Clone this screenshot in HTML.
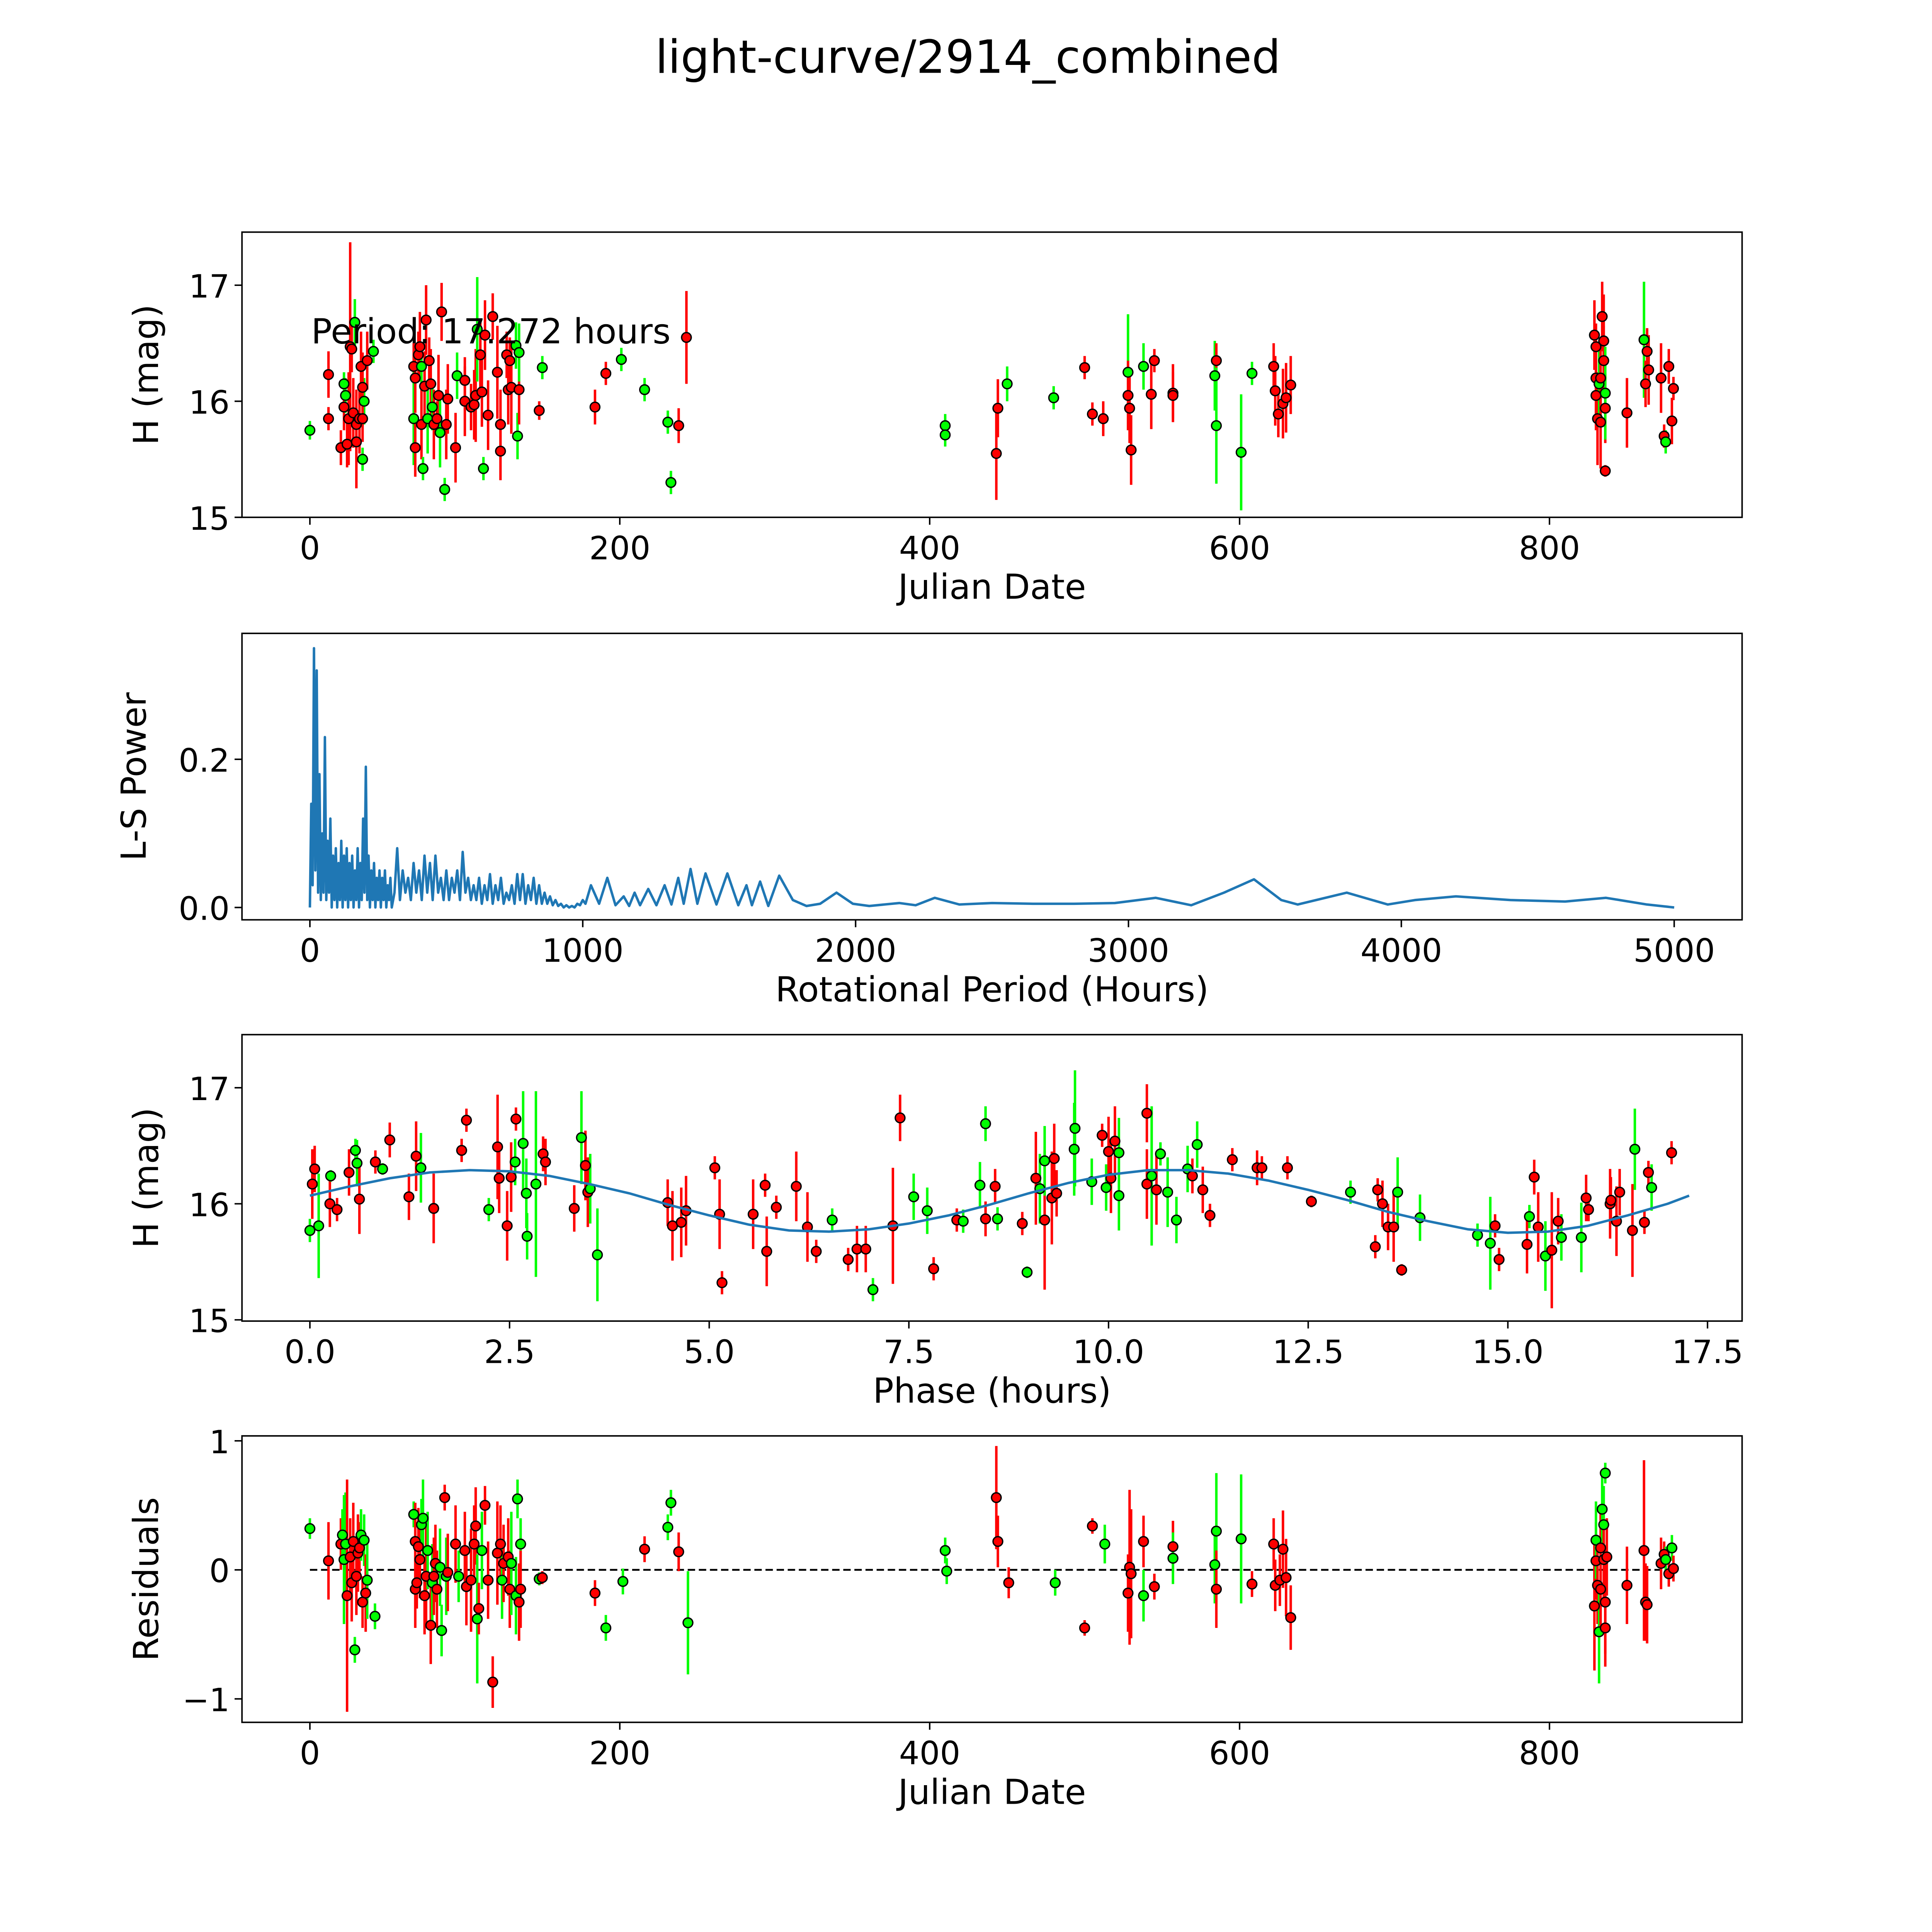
<!DOCTYPE html>
<html><head><meta charset="utf-8"><style>
html,body{margin:0;padding:0;background:#fff;overflow:hidden;width:5400px;height:5400px;}
svg{display:block;font-family:"DejaVu Sans","Liberation Sans",sans-serif;}
</style></head><body>
<svg id="fig" xmlns="http://www.w3.org/2000/svg" width="5400" height="5400" viewBox="0 0 1690 1690">
<rect width="1690" height="1690" fill="#fff"/>
<text x="784" y="59" font-size="37" text-anchor="middle">light-curve/2914_combined</text>
</svg>
<script>
// ---- data ----
const dates1 = [0,12,12,20,22,22,23,24,25,26,27,28,29,30,30,32,33,34,35,34,37,34,41,67,67,68,68,70,71,72,72,73,74,75,76,77,78,79,80,82,83,84,85,87,88,89,94,95,100,100,104,106,107,108,110,111,112,113,115,118,121,123,123,127,128,129,130,133,134,135,135,148,150,184,191,201,216,231,233,238,243,410,410,443,444,450,480,500,505,512,528,529,530,528,538,543,545,557,557,584,585,585,601,608,622,623,625,628,630,633,829,830,830,830,831,832,833,833,834,835,835,836,836,836,861,862,863,864,850,872,874,875,877,879,880];
const mags1 = [15.75,15.85,16.23,15.6,15.95,16.15,16.05,15.63,15.85,16.47,16.45,15.9,16.68,15.8,15.65,15.85,16.3,15.5,16.0,16.12,16.35,15.85,16.43,16.3,15.85,15.6,16.2,16.4,16.47,15.8,16.3,15.42,16.13,16.7,15.85,16.35,16.15,15.95,15.8,15.85,16.05,15.73,16.77,15.24,15.8,16.02,15.6,16.22,16.18,16.0,15.95,15.97,16.05,16.62,16.4,16.08,15.42,16.57,15.88,16.73,16.25,15.8,15.57,16.4,16.1,16.35,16.12,16.48,15.7,16.1,16.42,15.92,16.29,15.95,16.24,16.36,16.1,15.82,15.3,15.79,16.55,15.79,15.71,15.55,15.94,16.15,16.03,16.29,15.89,15.85,16.25,15.94,15.58,16.05,16.3,16.06,16.35,16.07,16.05,16.22,16.35,15.79,15.56,16.24,16.3,16.09,15.89,15.98,16.03,16.14,16.57,16.47,16.2,16.05,15.85,16.15,15.82,16.2,16.73,16.52,16.35,15.94,16.07,15.4,16.53,16.15,16.43,16.27,15.9,16.2,15.7,15.65,16.3,15.83,16.11];
const errs1 = [0.08,0.1,0.2,0.15,0.2,0.1,0.15,0.2,0.4,0.9,0.2,0.3,0.2,0.3,0.4,0.3,0.3,0.1,0.2,0.3,0.25,0.2,0.1,0.2,0.4,0.25,0.3,0.2,0.3,0.3,0.2,0.1,0.3,0.3,0.3,0.2,0.3,0.2,0.3,0.15,0.35,0.3,0.25,0.1,0.3,0.3,0.3,0.2,0.2,0.3,0.2,0.3,0.4,0.45,0.3,0.3,0.1,0.3,0.3,0.2,0.4,0.3,0.25,0.2,0.3,0.2,0.4,0.2,0.2,0.3,0.25,0.08,0.1,0.15,0.1,0.1,0.1,0.1,0.1,0.15,0.4,0.1,0.1,0.4,0.25,0.15,0.1,0.1,0.1,0.15,0.5,0.3,0.3,0.3,0.2,0.3,0.1,0.25,0.2,0.3,0.15,0.5,0.5,0.1,0.2,0.3,0.2,0.3,0.3,0.25,0.3,0.2,0.3,0.3,0.4,0.3,0.4,0.25,0.3,0.4,0.3,0.3,0.4,0.05,0.5,0.2,0.2,0.3,0.3,0.3,0.1,0.1,0.15,0.2,0.1];
const cols1 = "grrrrggrrrrrgrrrrggrrrgrgrrrrrggrrgrrgrrrgrgrrrgrrrrrgrrgrrrrrrrrrrggrgrgrrggggrrggrrggrrrgrrrgrrrrgrgggrrrrrrrrrrrgrrrrrrgrgrrrrrrgrrrgrg";

const periods = [0,5,10,15,20,25,30,35,40,45,50,55,60,65,70,75,80,85,90,95,100,105,110,115,120,125,130,135,140,145,150,155,160,165,170,175,180,185,190,195,200,205,210,215,220,225,230,235,240,245,250,255,260,265,270,275,280,285,290,295,300,310,320,330,340,350,360,370,380,390,400,410,420,430,440,450,460,470,480,490,500,510,520,530,540,550,560,570,580,590,600,610,620,630,640,650,660,670,680,690,700,710,720,730,740,750,760,770,780,790,800,810,820,830,840,850,860,870,880,890,900,910,920,930,940,950,960,970,980,990,1000,1010,1030,1060,1090,1120,1150,1170,1190,1210,1240,1270,1300,1325,1350,1370,1395,1420,1450,1490,1530,1570,1600,1620,1650,1680,1720,1770,1820,1870,1930,1990,2050,2160,2220,2290,2380,2500,2650,2800,2950,3100,3230,3350,3460,3560,3620,3800,3950,4050,4200,4400,4600,4750,4900,5000];
const power = [0,0.14,0.03,0.35,0.05,0.32,0.02,0.18,0.01,0.10,0.02,0.23,0.01,0.09,0.02,0.12,0,0.07,0.01,0.08,0,0.06,0.01,0.09,0,0.07,0.01,0.08,0,0.06,0.01,0.07,0,0.05,0.01,0.08,0,0.06,0.01,0.12,0.02,0.19,0.01,0.07,0,0.05,0.01,0.06,0,0.04,0.01,0.05,0,0.04,0.01,0.05,0,0.03,0.01,0.04,0,0.02,0.08,0.01,0.05,0.02,0.04,0.01,0.06,0.02,0.05,0.01,0.07,0.02,0.06,0.01,0.07,0.02,0.04,0.01,0.05,0.01,0.04,0.02,0.05,0.01,0.075,0.02,0.04,0.01,0.03,0.01,0.04,0.005,0.03,0.01,0.045,0.005,0.03,0.01,0.04,0.005,0.02,0.01,0.03,0.005,0.045,0.01,0.045,0.005,0.03,0.01,0.04,0.005,0.03,0.005,0.02,0.005,0.015,0.003,0.01,0.002,0.005,0,0.003,0,0.002,0,0.005,0.003,0.01,0.005,0.03,0.005,0.04,0.003,0.015,0.002,0.02,0.003,0.025,0.003,0.03,0.004,0.04,0.005,0.052,0.005,0.046,0.004,0.046,0.003,0.03,0.003,0.035,0.002,0.043,0.01,0.002,0.005,0.02,0.005,0.002,0.006,0.003,0.013,0.004,0.006,0.005,0.005,0.006,0.013,0.003,0.02,0.038,0.01,0.004,0.02,0.004,0.01,0.015,0.01,0.008,0.013,0.004,0];

const phases = [0,0.03,0.06,0.11,0.25,0.26,0.34,0.49,0.57,0.59,0.62,0.82,0.91,1.00,1.24,1.33,1.39,1.55,1.90,1.96,2.24,2.35,2.37,2.47,2.52,2.57,2.58,2.67,2.71,2.72,2.83,2.92,2.95,3.31,3.40,3.45,3.48,3.51,3.60,4.48,4.54,4.65,4.71,5.07,5.13,5.16,5.55,5.70,5.72,5.84,6.09,6.23,6.34,6.54,6.74,6.85,6.96,7.05,7.30,7.39,7.56,7.73,7.81,8.10,8.18,8.39,8.46,8.46,8.58,8.61,8.92,8.98,9.09,9.14,9.20,9.20,9.29,9.32,9.35,9.57,9.58,9.79,9.92,9.97,10.00,10.03,10.08,10.13,10.13,10.48,10.48,10.54,10.60,10.65,10.74,10.85,10.99,11.05,11.11,11.18,11.27,11.55,11.86,11.92,12.24,12.54,13.03,13.34,13.37,13.43,13.50,13.57,13.62,13.67,13.90,14.62,14.78,14.84,14.89,15.24,15.27,15.33,15.38,15.47,15.55,15.63,15.67,15.92,15.98,16.01,16.28,16.29,16.36,16.40,16.56,16.59,16.71,16.76,16.80,17.05];
const mags3 = [15.77,16.17,16.30,15.81,16.00,16.24,15.95,16.27,16.46,16.35,16.04,16.36,16.30,16.55,16.06,16.41,16.31,15.96,16.46,16.72,15.95,16.49,16.22,15.81,16.23,16.36,16.73,16.52,16.09,15.72,16.17,16.43,16.36,15.96,16.57,16.33,16.10,16.13,15.56,16.01,15.81,15.84,15.94,16.31,15.91,15.32,15.91,16.16,15.59,15.97,16.15,15.80,15.59,15.86,15.52,15.61,15.61,15.26,15.81,16.74,16.06,15.94,15.44,15.86,15.85,16.16,16.69,15.87,16.15,15.87,15.83,15.41,16.22,16.13,15.86,16.37,16.05,16.39,16.09,16.47,16.65,16.19,16.59,16.14,16.45,16.22,16.54,16.44,16.07,16.78,16.17,16.24,16.12,16.43,16.10,15.86,16.30,16.24,16.51,16.12,15.90,16.38,16.31,16.31,16.31,16.02,16.10,15.63,16.12,16.00,15.80,15.80,16.10,15.43,15.88,15.73,15.66,15.81,15.52,15.65,15.89,16.23,15.80,15.55,15.60,15.85,15.71,15.71,16.05,15.95,16.00,16.03,15.85,16.10,15.77,16.47,15.84,16.27,16.14,16.44];
const errs3 = [0.1,0.3,0.2,0.45,0.2,0.05,0.1,0.2,0.1,0.2,0.3,0.1,0.05,0.15,0.2,0.3,0.3,0.3,0.1,0.1,0.1,0.45,0.3,0.3,0.3,0.2,0.1,0.45,0.3,0.2,0.8,0.15,0.2,0.2,0.4,0.3,0.3,0.3,0.4,0.2,0.3,0.3,0.3,0.1,0.3,0.1,0.3,0.1,0.3,0.1,0.3,0.3,0.1,0.1,0.1,0.2,0.2,0.1,0.5,0.2,0.2,0.2,0.1,0.1,0.1,0.2,0.15,0.15,0.15,0.1,0.1,0.05,0.4,0.3,0.6,0.3,0.4,0.3,0.2,0.4,0.5,0.2,0.1,0.2,0.3,0.3,0.3,0.3,0.3,0.25,0.3,0.6,0.3,0.1,0.3,0.2,0.2,0.15,0.2,0.2,0.1,0.1,0.15,0.1,0.1,0.05,0.1,0.1,0.1,0.2,0.2,0.3,0.3,0.05,0.2,0.1,0.4,0.1,0.1,0.25,0.1,0.15,0.3,0.3,0.5,0.2,0.2,0.3,0.2,0.1,0.3,0.2,0.3,0.2,0.4,0.35,0.1,0.1,0.2,0.1];
const cols3 = "grrgrgrrggrrgrrrgrrrgrrrrgrggggrrrgrrggrrrrrrrrrrrrrrgrrrgrrggrrgggrrgrgrgrgrrrgggrgrrrggrrgrggggrgrrrrrrrgrrrrrgrgggrrrgrrgrrggrrrrrrrgrrg";
const modelPhase = [0,0.5,1,1.5,2,2.5,3,3.5,4,4.5,5,5.5,6,6.5,7,7.5,8,8.5,9,9.5,10,10.5,11,11.5,12,12.5,13,13.5,14,14.5,15,15.5,16,16.5,17,17.27];
const modelMag = [16.07,16.15,16.22,16.27,16.29,16.28,16.24,16.17,16.09,15.99,15.9,15.82,15.77,15.76,15.78,15.83,15.9,15.99,16.09,16.18,16.25,16.29,16.29,16.26,16.2,16.12,16.03,15.93,15.85,15.78,15.75,15.76,15.81,15.9,16.0,16.07];

const dates4 = [0,12,20,21,22,23,24,26,27,28,29,30,31,32,33,34,35,36,37,42,67,68,68,69,70,71,72,73,74,75,76,78,79,80,81,82,84,85,87,88,89,94,96,100,101,104,106,107,108,109,111,113,115,118,121,123,124,125,128,129,130,133,134,135,136,136,148,150,184,191,202,216,231,233,238,244,410,411,443,444,451,481,500,505,513,528,529,530,538,538,545,557,557,584,585,585,601,608,622,623,626,628,630,633,829,830,830,831,832,833,833,834,835,835,836,836,836,837,850,861,862,863,872,874,875,877,879,880];
const resid4 = [0.32,0.07,0.2,0.27,0.08,0.2,-0.2,0.1,-0.1,0.22,-0.62,-0.05,0.13,0.17,0.27,-0.25,0.23,-0.18,-0.08,-0.36,0.43,-0.15,0.22,-0.1,0.18,0.08,0.35,0.4,-0.2,-0.05,0.15,-0.43,-0.1,-0.05,0.05,-0.15,0.02,-0.47,0.56,-0.05,-0.02,0.2,-0.05,0.15,-0.13,-0.08,0.2,0.34,-0.38,-0.3,0.15,0.5,-0.08,-0.87,0.13,0.2,-0.08,0.05,0.1,-0.15,0.05,-0.2,0.55,-0.25,0.2,-0.15,-0.07,-0.06,-0.18,-0.45,-0.09,0.16,0.33,0.52,0.14,-0.41,0.15,-0.01,0.56,0.22,-0.1,-0.1,-0.45,0.34,0.2,-0.18,0.02,-0.03,0.22,-0.2,-0.13,0.18,0.09,0.04,0.3,-0.15,0.24,-0.11,0.2,-0.12,-0.08,0.16,-0.06,-0.37,-0.28,0.07,0.23,-0.12,-0.48,0.17,-0.15,0.47,0.35,0.08,-0.45,0.75,-0.25,0.1,-0.12,0.15,-0.25,-0.27,0.05,0.12,0.08,-0.03,0.17,0.01];
const errs4 = [0.08,0.3,0.2,0.2,0.5,0.4,0.9,0.3,0.3,0.3,0.1,0.3,0.3,0.2,0.2,0.2,0.2,0.3,0.3,0.1,0.1,0.3,0.3,0.2,0.3,0.3,0.2,0.3,0.3,0.4,0.3,0.3,0.3,0.3,0.3,0.3,0.3,0.2,0.1,0.3,0.3,0.3,0.2,0.3,0.3,0.4,0.3,0.3,0.5,0.2,0.3,0.15,0.3,0.2,0.4,0.3,0.3,0.3,0.3,0.3,0.4,0.3,0.15,0.3,0.2,0.3,0.05,0.05,0.1,0.1,0.1,0.1,0.1,0.1,0.15,0.4,0.1,0.1,0.4,0.2,0.12,0.1,0.06,0.06,0.15,0.3,0.6,0.5,0.2,0.2,0.1,0.2,0.2,0.3,0.45,0.3,0.5,0.1,0.2,0.2,0.2,0.3,0.3,0.25,0.5,0.3,0.3,0.3,0.4,0.3,0.3,0.3,0.3,0.3,0.3,0.08,0.4,0.3,0.3,0.7,0.3,0.3,0.2,0.1,0.1,0.1,0.1,0.1];
const cols4 = "grrgggrrrrgrrrgrgrgggrrrrrggrrgrgrrrggrgrrgrrrrrgrgrrrrrgrrrgggrgrgrrggrggrgggrrrgrrgrrrrgrrgggrgrrrrrrrrrgrgrrggrrgrrrrrrrrgrg";

// ---- helpers ----
const NS = "http://www.w3.org/2000/svg";
const fig = document.getElementById('fig');
function mk(tag, attrs, parent){const e=document.createElementNS(NS,tag);for(const k in attrs)e.setAttribute(k,attrs[k]);(parent||fig).appendChild(e);return e;}
function scale(d0,d1,p0,p1){return v=>p0+(v-d0)*(p1-p0)/(d1-d0);}

function axes(name, L,T,R,B, xs, ys, xticks, xlabels, yticks, ylabels, xtitle, ytitle, ytx){
  const g=mk('g',{});
  
  
  xticks.forEach((t,i)=>{const x=xs(t);
    mk('line',{x1:x,x2:x,y1:B,y2:B+6,stroke:'#000','stroke-width':1.2},g);
    const tx=mk('text',{x:x,y:B+34,'font-size':26,'text-anchor':'middle'},g);tx.textContent=xlabels[i];
    
    });
  yticks.forEach((t,i)=>{const y=ys(t);
    mk('line',{x1:L-6,x2:L,y1:y,y2:y,stroke:'#000','stroke-width':1.2},g);
    const tx=mk('text',{x:L-10,y:y+10,'font-size':26,'text-anchor':'end'},g);tx.textContent=ylabels[i];
    
    });
  const xt=mk('text',{x:(L+R)/2,y:B+66,'font-size':28,'text-anchor':'middle'},g);xt.textContent=xtitle;
  
  
  const yc=(T+B)/2;
  const yt=mk('text',{x:ytx,y:yc,'font-size':28,'text-anchor':'middle',transform:`rotate(-90 ${ytx} ${yc})`},g);yt.textContent=ytitle;
  
  
  return g;
}
function frame(L,T,R,B){const r=mk('rect',{x:L,y:T,width:R-L,height:B-T,fill:'none',stroke:'#000','stroke-width':1.2});
  
  }
function errPoints(xsArr,ysArr,es,cs,xs,ys,name){
  const g=mk('g',{});
  
  
  for(let i=0;i<xsArr.length;i++){const c=cs[i]==='g'?'#00ff00':'#ff0000';
    const x=xs(xsArr[i]);
    const l=mk('line',{x1:x,x2:x,y1:ys(ysArr[i]-es[i]),y2:ys(ysArr[i]+es[i]),stroke:c,'stroke-width':2},g);
    
    }
  for(let i=0;i<xsArr.length;i++){const c=cs[i]==='g'?'#00ff00':'#ff0000';
    const p=mk('circle',{cx:xs(xsArr[i]),cy:ys(ysArr[i]),r:3.9,fill:c,stroke:'#000','stroke-width':1.1},g);
    
    }
}

// ---- panel 1 ----
{const L=196,T=188,R=1411,B=419;
 const xs=scale(0,800,251,1255), ys=scale(15,17,419,231);
 axes('lightcurve-axes',L,T,R,B,xs,ys,[0,200,400,600,800],['0','200','400','600','800'],[15,16,17],['15','16','17'],'Julian Date','H (mag)',128);
 errPoints(dates1,mags1,errs1,cols1,xs,ys,'lightcurve-points');
 const t=mk('text',{x:252,y:278,'font-size':28});t.textContent='Period: 17.272 hours';
 
 
 frame(L,T,R,B);}

// ---- panel 2 ----
{const L=196,T=513,R=1411,B=745;
 const xs=scale(0,5000,251,1356), ys=scale(0,0.2,735,615);
 axes('periodogram-axes',L,T,R,B,xs,ys,[0,1000,2000,3000,4000,5000],['0','1000','2000','3000','4000','5000'],[0,0.2],['0.0','0.2'],'Rotational Period (Hours)','L-S Power',118);
 const pts=periods.map((p,i)=>xs(p).toFixed(2)+','+ys(power[i]).toFixed(2)).join(' ');
 const pl=mk('polyline',{points:pts,fill:'none',stroke:'#1f77b4','stroke-width':2,'stroke-linejoin':'round'});
 
 
 frame(L,T,R,B);}

// ---- panel 3 ----
{const L=196,T=838,R=1411,B=1070;
 const xs=scale(0,17.5,251,1383), ys=scale(15,17,1069,881);
 axes('phase-axes',L,T,R,B,xs,ys,[0,2.5,5,7.5,10,12.5,15,17.5],['0.0','2.5','5.0','7.5','10.0','12.5','15.0','17.5'],[15,16,17],['15','16','17'],'Phase (hours)','H (mag)',128);
 errPoints(phases,mags3,errs3,cols3,xs,ys,'phase-points');
 const pts=modelPhase.map((p,i)=>xs(p).toFixed(2)+','+ys(modelMag[i]).toFixed(2)).join(' ');
 const pl=mk('polyline',{points:pts,fill:'none',stroke:'#1f77b4','stroke-width':2});
 
 
 frame(L,T,R,B);}

// ---- panel 4 ----
{const L=196,T=1163,R=1411,B=1395;
 const xs=scale(0,800,251,1255), ys=scale(-1,1,1376,1167);
 axes('residuals-axes',L,T,R,B,xs,ys,[0,200,400,600,800],['0','200','400','600','800'],[-1,0,1],['\u22121','0','1'],'Julian Date','Residuals',128);
 const z=mk('line',{x1:xs(0),x2:xs(880),y1:ys(0),y2:ys(0),stroke:'#000','stroke-width':1.5,'stroke-dasharray':'6,3'});
 
 
 errPoints(dates4,resid4,errs4,cols4,xs,ys,'residual-points');
 frame(L,T,R,B);}
</script>
</body></html>
